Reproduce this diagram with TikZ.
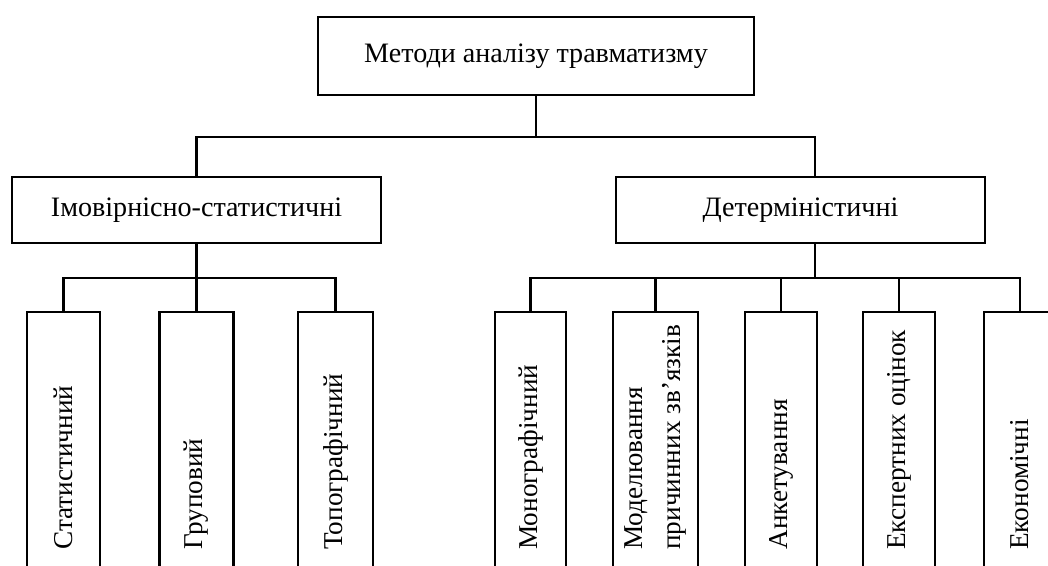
\documentclass[tikz,border=0pt]{standalone}
\usepackage{fontspec}
\setmainfont{Liberation Serif}
\usepackage{tikz}
\tikzset{every picture/.append style={font=\fontsize{16}{19}\selectfont}}
\tikzset{
  box/.style={draw,line width=1.2pt,rectangle,inner sep=0pt},
  leaf/.style={draw,line width=1.2pt,rectangle,anchor=north,minimum height=5.8cm,inner sep=0pt},
  vtext/.style={rotate=90,anchor=west,align=left,inner sep=0pt,font=\fontsize{15.5}{21.5}\selectfont},
  link/.style={line width=1.2pt}
}

\begin{document}
\begin{tikzpicture}[x=1cm,y=1cm]
    \useasboundingbox (0,0) rectangle (20.96,11.32);
    \clip (0,0) rectangle (20.96,11.32);
    % upper levels
    \node[box,minimum width=8.72cm,minimum height=1.56cm] (top) at (10.72,10.2) {Методи аналізу травматизму};
    \node[box,minimum width=7.38cm,minimum height=1.32cm] (prob) at (3.93,7.12) {Імовірнісно-статистичні};
    \node[box,minimum width=7.38cm,minimum height=1.32cm] (det) at (16.01,7.12) {Детерміністичні};
    \coordinate (hub) at (10.72,8.58);
    \coordinate (busL) at (3.93,5.76);
    \coordinate (busR) at (16.3,5.76);
    % leaves (cut off by the page edge)
    \foreach \nm/\cx/\w/\txt in {s1/1.27/1.46/Статистичний, s2/3.93/1.48/Груповий, s3/6.71/1.5/Топографічний,
        m1/10.61/1.42/Монографічний, m2/13.11/1.7/{Моделювання\\причинних зв’язків}, m3/15.62/1.44/Анкетування,
        m4/17.98/1.44/Експертних оцінок, m5/20.4/1.44/Економічні} {
      \node[leaf,minimum width=\w cm] (\nm) at (\cx,5.1) {};
      \node[vtext] (\nm-t) at (\cx,0.32) {\txt};
    }
    % connectors
    \draw[link] (top.south) -- (hub);
    \draw[link] (prob.north) |- (hub) -| (busR |- det.north);
    \draw[link] (prob.south) -- (s2.north);
    \draw[link] (s1.north) |- (busL) -| (s3.north);
    \draw[link] (busR |- det.south) -- (busR);
    \draw[link] (m1.north) |- (busR) -| (m5.north);
    \foreach \n in {m2,m3,m4} \draw[link] (\n.north) -- (\n.north |- busR);
  \end{tikzpicture}
\end{document}
